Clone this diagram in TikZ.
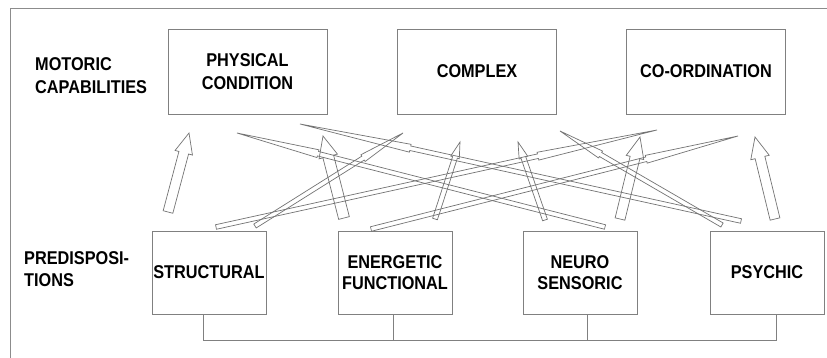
\documentclass[tikz,border=0pt]{standalone}
\usepackage{fontspec}
\setmainfont{Liberation Sans}[FakeStretch=0.88]
\usetikzlibrary{calc}

\newcommand\upperfont{\bfseries\fontsize{18.5}{23.5}\selectfont}
\newcommand\lowerfont{\bfseries\fontsize{18.5}{21.5}\selectfont}

% hollow arrow outline: tail, tip, shaft half width, head half width, head length (fraction)
\newcommand\hollowarrow[5]{%
  \coordinate (hb) at ($(#2)!#5!(#1)$);
  \draw[arrowline] ($(#1)!#3!90:(#2)$) -- ($(hb)!#3!90:(#2)$) -- ($(hb)!#4!90:(#2)$) -- (#2)
    -- ($(hb)!#4!-90:(#2)$) -- ($(hb)!#3!-90:(#2)$) -- ($(#1)!#3!-90:(#2)$) -- cycle;
}

\tikzset{
  frameline/.style={draw=black!45, line width=0.9pt},
  boxnode/.style={draw=black!50, line width=0.9pt, inner sep=0pt, align=center, text=black},
  topbox/.style={boxnode, minimum width=159pt, minimum height=85pt, font=\upperfont},
  lowbox/.style={boxnode, minimum width=114pt, minimum height=83pt, font=\lowerfont},
  sidelabel/.style={inner sep=0pt, align=left, anchor=west},
  busline/.style={draw=black!50, line width=0.9pt},
  arrowline/.style={draw=black!55, line width=0.7pt, line join=miter},
}

\begin{document}
\begin{tikzpicture}[x=1pt, y=-1pt]
\useasboundingbox (0,0) rectangle (827,358);
\fill[white] (0,0) rectangle (827,358);

% outer frame (top and left edges)
\draw[frameline] (10,358) -- (10,8) -- (827,8);

% row labels
\node[sidelabel, font=\upperfont] (motoric) at (35,75.5) {MOTORIC\\CAPABILITIES};
\node[sidelabel, font=\lowerfont] (predis) at (24,269) {PREDISPOSI-\\TIONS};

% motoric capabilities
\node[topbox] (phys) at (247.5,71.5) {PHYSICAL\\CONDITION};
\node[topbox] (compl) at (477,71.5) {COMPLEX};
\node[topbox] (coord) at (706,71.5) {CO-ORDINATION};

% predispositions
\node[lowbox] (struct) at (209,272.5) {STRUCTURAL};
\node[lowbox] (ener) at (395,272.5) {ENERGETIC\\FUNCTIONAL};
\node[lowbox] (neuro) at (580,272.5) {NEURO\\SENSORIC};
\node[lowbox] (psych) at (767,272.5) {PSYCHIC};

% bus joining the predispositions
\coordinate (bus) at (0,340);
\draw[busline] ([xshift=-6pt]struct.south) -- ([xshift=-6pt]struct.south |- bus)
  -- ([xshift=9pt]psych.south |- bus) -- ([xshift=9pt]psych.south);
\draw[busline] ([xshift=-2pt]ener.south) -- ([xshift=-2pt]ener.south |- bus);
\draw[busline] ([xshift=7pt]neuro.south) -- ([xshift=7pt]neuro.south |- bus);

% arrow end points
\coordinate (sp0) at (168,212);  \coordinate (sp1) at (189,133);
\coordinate (sc0) at (255,226);  \coordinate (sc1) at (403,133);
\coordinate (so0) at (216,227);  \coordinate (so1) at (657,130);
\coordinate (ep0) at (344,218);  \coordinate (ep1) at (323,136);
\coordinate (ec0) at (435,219);  \coordinate (ec1) at (460,142);
\coordinate (eo0) at (371,229);  \coordinate (eo1) at (738,136);
\coordinate (np0) at (605,227);  \coordinate (np1) at (237,133);
\coordinate (nc0) at (545,220);  \coordinate (nc1) at (518,142);
\coordinate (no0) at (620,219);  \coordinate (no1) at (640,137);
\coordinate (pp0) at (741,221);  \coordinate (pp1) at (300,124);
\coordinate (pc0) at (722,225);  \coordinate (pc1) at (560,131);
\coordinate (po0) at (775,219);  \coordinate (po1) at (755,137);

% broad arrows
\hollowarrow{sp0}{sp1}{5pt}{9pt}{0.25}
\hollowarrow{ep0}{ep1}{5.5pt}{9.5pt}{0.25}
\hollowarrow{no0}{no1}{5pt}{9pt}{0.25}
\hollowarrow{po0}{po1}{5pt}{9.5pt}{0.25}

% narrow arrows
\hollowarrow{ec0}{ec1}{2.5pt}{4.5pt}{0.2}
\hollowarrow{nc0}{nc1}{2.5pt}{4.5pt}{0.2}

% long crossing arrows
\hollowarrow{sc0}{sc1}{2.3pt}{4pt}{0.27}
\hollowarrow{so0}{so1}{2.3pt}{4pt}{0.27}
\hollowarrow{eo0}{eo1}{2.3pt}{4pt}{0.25}
\hollowarrow{np0}{np1}{2.3pt}{4pt}{0.22}
\hollowarrow{pp0}{pp1}{2.3pt}{4pt}{0.25}
\hollowarrow{pc0}{pc1}{2.3pt}{4pt}{0.25}
\end{tikzpicture}
\end{document}
